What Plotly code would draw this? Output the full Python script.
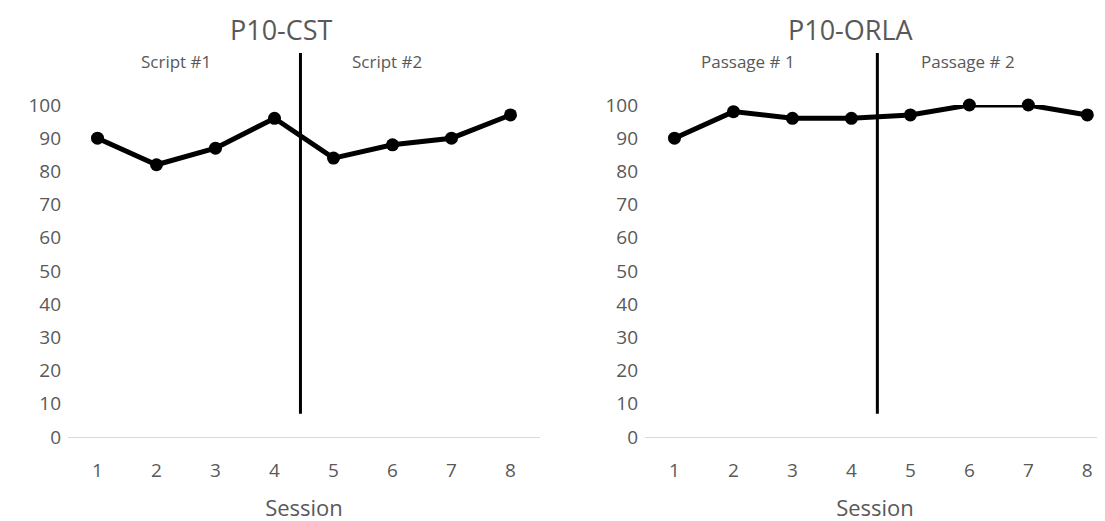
import plotly.graph_objects as go

sessions = [1, 2, 3, 4, 5, 6, 7, 8]
cst_scores = [90, 82, 87, 96, 84, 88, 90, 97]
orla_scores = [90, 98, 96, 96, 97, 100, 100, 97]
y_ticks = [0, 10, 20, 30, 40, 50, 60, 70, 80, 90, 100]

left_title = "P10-CST"
right_title = "P10-ORLA"
left_phases = ["Script #1", "Script #2"]
right_phases = ["Passage # 1", "Passage # 2"]
phase_change = 4.44  # session position of the phase-change line

GREY = "#595959"
FONT = "Open Sans"
W = 1105

fig = go.Figure()
for scores, xa, ya in [(cst_scores, "x", "y"), (orla_scores, "x2", "y2")]:
    fig.add_trace(go.Scatter(
        x=sessions, y=scores, xaxis=xa, yaxis=ya, mode="lines+markers",
        line=dict(color="black", width=5),
        marker=dict(color="black", size=13),
        cliponaxis=False, showlegend=False,
    ))

xcommon = dict(
    tickvals=sessions, showgrid=False, zeroline=False, showline=True,
    linecolor="#d9d9d9", linewidth=1, ticks="",
    tickfont=dict(family=FONT, size=19, color=GREY),
    ticklabelstandoff=16,
    title=dict(text="Session", font=dict(family=FONT, size=22, color=GREY), standoff=18),
)
ycommon = dict(
    range=[0, 100], tickvals=y_ticks, showgrid=False, zeroline=False,
    showline=False, ticks="",
    tickfont=dict(family=FONT, size=19, color=GREY),
    ticklabelstandoff=6,
)

fig.update_layout(
    width=W, height=521,
    margin=dict(l=0, r=0, t=97, b=92),
    plot_bgcolor="white", paper_bgcolor="white",
    xaxis=dict(domain=[60 / W, 532 / W], range=[0.5, 8.5], anchor="y", **xcommon),
    yaxis=dict(domain=[0, 1], anchor="x", **ycommon),
    xaxis2=dict(domain=[637 / W, 1097 / W], range=[0.5, 8.3], anchor="y2", **xcommon),
    yaxis2=dict(domain=[0, 1], anchor="x2", **ycommon),
)

for xa, ya in [("x", "y"), ("x2", "y2")]:
    fig.add_shape(type="line", xref=xa, yref=ya + " domain",
                  x0=phase_change, x1=phase_change, y0=0.07, y1=1.157,
                  line=dict(color="black", width=3))

# titles
fig.add_annotation(text=left_title, xref="paper", yref="paper", x=273 / W, y=1.289,
                   yanchor="top", xanchor="center",
                   showarrow=False, font=dict(family=FONT, size=27, color=GREY))
fig.add_annotation(text=right_title, xref="paper", yref="paper", x=843 / W, y=1.289,
                   yanchor="top", xanchor="center",
                   showarrow=False, font=dict(family=FONT, size=27, color=GREY))

# phase labels
for xa, labels, xs in [("x", left_phases, [2.33, 5.9]), ("x2", right_phases, [2.24, 5.98])]:
    for lab, xv in zip(labels, xs):
        fig.add_annotation(text=lab, xref=xa, yref="paper", x=xv, y=1.13,
                           yanchor="middle", xanchor="center",
                           showarrow=False, font=dict(family=FONT, size=17, color=GREY))

fig.write_html("out.html")
